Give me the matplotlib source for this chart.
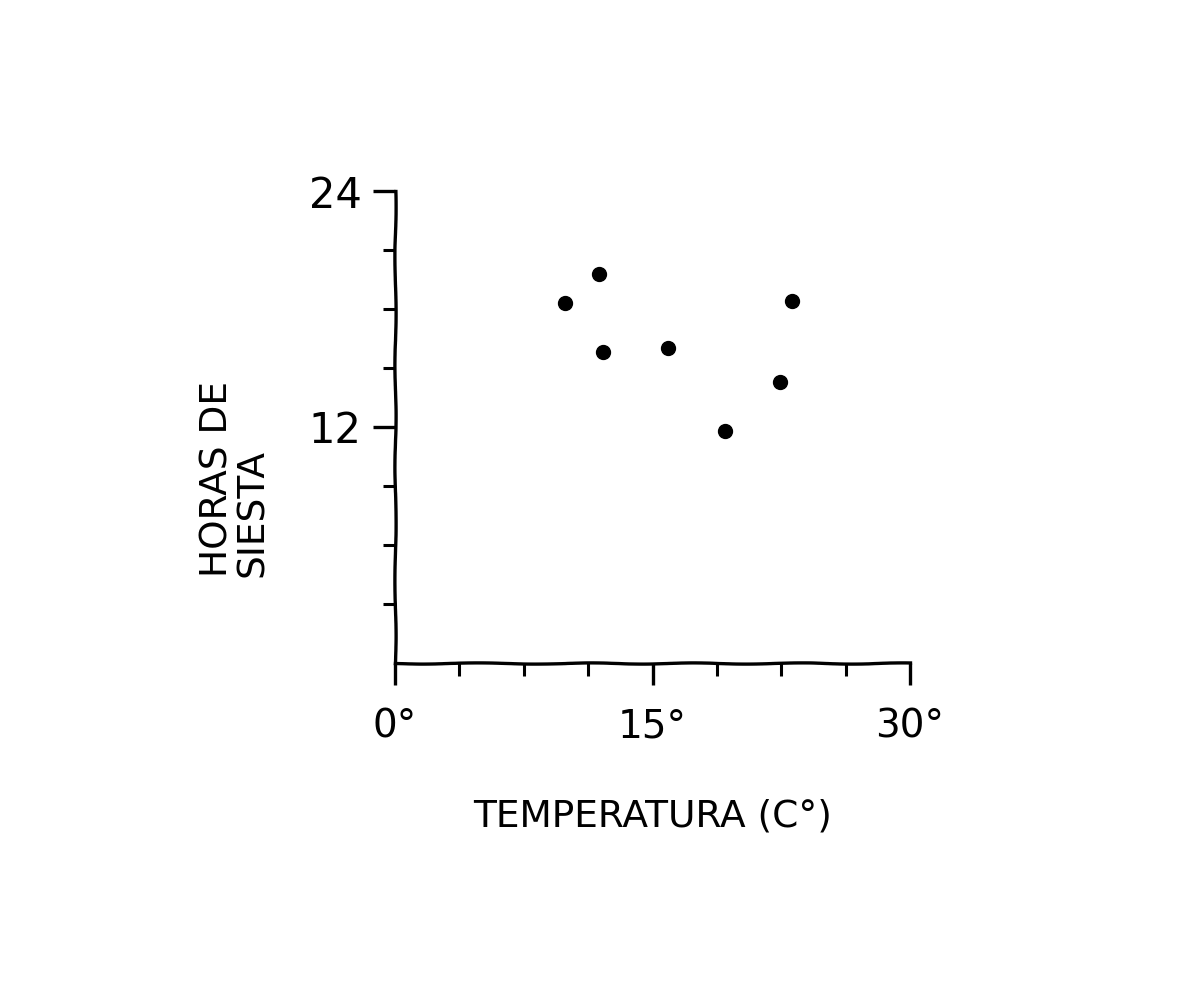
import matplotlib
matplotlib.use("Agg")
import matplotlib.pyplot as plt

# data
temperatura = [9.9, 11.9, 12.1, 15.9, 19.2, 22.4, 23.1]
horas_siesta = [18.3, 19.8, 15.8, 16.0, 11.8, 14.3, 18.4]

x_ticks = [0, 15, 30]
x_tick_labels = ["0°", "15°", "30°"]
x_minor = [3.75, 7.5, 11.25, 18.75, 22.5, 26.25]
y_ticks = [12, 24]
y_tick_labels = ["12", "24"]
y_minor = [3, 6, 9, 15, 18, 21]

# sketchy hand-drawn look
plt.xkcd(scale=0.6, length=120, randomness=2)
plt.rcParams['font.family'] = ['DejaVu Sans']
plt.rcParams['path.effects'] = []

fig = plt.figure(figsize=(11.88, 9.98), dpi=100)
ax = fig.add_axes([0.3325, 0.3357, 0.4335, 0.4729])

ax.scatter(temperatura, horas_siesta, s=100, color='black', zorder=3)

ax.set_xlim(0, 30)
ax.set_ylim(0, 24)

ax.spines['top'].set_visible(False)
ax.spines['right'].set_visible(False)
for s in ['left', 'bottom']:
    ax.spines[s].set_linewidth(2.4)
    ax.spines[s].set_color('black')

ax.set_xticks(x_ticks)
ax.set_xticklabels(x_tick_labels, fontsize=28)
ax.set_xticks(x_minor, minor=True)
ax.set_yticks(y_ticks)
ax.set_yticklabels(y_tick_labels, fontsize=30)
ax.set_yticks(y_minor, minor=True)

ax.tick_params(axis='x', which='major', length=16, width=2.4, direction='out', pad=16)
ax.tick_params(axis='y', which='major', length=16, width=2.4, direction='out', pad=8)
ax.tick_params(axis='both', which='minor', length=9, width=2.2, direction='out')

ax.set_xlabel("TEMPERATURA (C°)", fontsize=27, labelpad=38)

# y label placed by hand, lines lined up at the bottom
fig.text(0.198, 0.52, "HORAS DE\nSIESTA", fontsize=27, rotation=90,
         ha='center', va='center', multialignment='left', linespacing=1.0)

fig.savefig("out.png", dpi=100, facecolor='white')
